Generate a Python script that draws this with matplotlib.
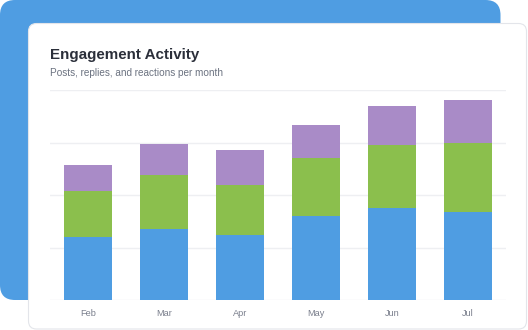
import matplotlib
matplotlib.use("Agg")
import matplotlib.pyplot as plt
from matplotlib.patches import FancyBboxPatch
import numpy as np

months = ["Feb", "Mar", "Apr", "May", "Jun", "Jul"]
posts = [120, 136, 124, 160, 176, 168]
replies = [88, 103, 95, 112, 120, 132]
reactions = [49, 59, 67, 61, 74, 81]
y_ticks = [0, 100, 200, 300, 400]

title = "Engagement Activity"
subtitle = "Posts, replies, and reactions per month"

W, H = 528, 330
fig = plt.figure(figsize=(W / 100, H / 100), dpi=100)
fig.patch.set_facecolor("white")

bg = fig.add_axes([0, 0, 1, 1])
bg.set_xlim(0, W)
bg.set_ylim(H, 0)
bg.axis("off")
bg.add_patch(FancyBboxPatch((0, 0), 500.5, 300, boxstyle="round,pad=0,rounding_size=15",
                            facecolor="#4f9de2", edgecolor="none"))
bg.add_patch(FancyBboxPatch((28.5, 23.5), 498, 305.5, boxstyle="round,pad=0,rounding_size=8",
                            facecolor="white", edgecolor="#e3e5ea", linewidth=0.8))
bg.text(50, 58.5, title, fontsize=10.9, fontweight="bold", color="#2b2f3a",
        family="Liberation Sans", va="baseline")
bg.text(50, 76, subtitle, fontsize=7.2, color="#6b7280",
        family="Liberation Sans", va="baseline")

ax = fig.add_axes([50 / W, 1 - 300.3 / H, 456 / W, 210 / H])
ax.set_facecolor("none")
x = np.arange(len(months))
bw = 48 / 76
b1 = np.array(posts)
b2 = b1 + np.array(replies)
ax.bar(x, posts, width=bw, color="#4f9de2", zorder=3)
ax.bar(x, replies, width=bw, bottom=b1, color="#8bbf4d", zorder=3)
ax.bar(x, reactions, width=bw, bottom=b2, color="#a98bc7", zorder=3)
ax.set_xlim(-0.5, len(months) - 0.5)
ax.set_ylim(0, 400)
ax.set_yticks(y_ticks)
ax.yaxis.grid(True, color="#eeeff2", linewidth=1, zorder=0)
ax.tick_params(axis="y", left=False, labelleft=False)
ax.tick_params(axis="x", bottom=False, pad=3, labelsize=6.6, labelcolor="#7a7f8c")
ax.set_xticks(x)
ax.set_xticklabels(months, family="Liberation Sans")
for s in ax.spines.values():
    s.set_visible(False)

fig.savefig("out.png", dpi=100)
